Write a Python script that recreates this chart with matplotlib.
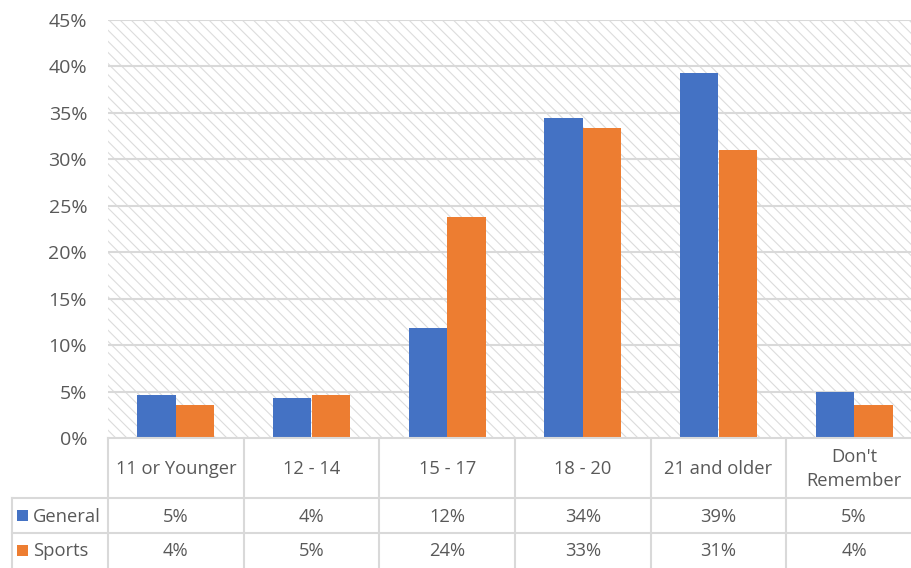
import numpy as np
import matplotlib.pyplot as plt
from matplotlib.patches import Rectangle

plt.rcParams['font.family'] = ['Open Sans', 'DejaVu Sans']
plt.rcParams['hatch.linewidth'] = 0.8
plt.rcParams['hatch.color'] = '#dcdcdc'

# data
categories = ["11 or Younger", "12 - 14", "15 - 17", "18 - 20", "21 and older", "Don't\nRemember"]
general = [4.6, 4.3, 11.8, 34.5, 39.3, 4.9]
sports = [3.5, 4.6, 23.8, 33.4, 31.0, 3.5]
general_lbl = ["5%", "4%", "12%", "34%", "39%", "5%"]
sports_lbl = ["4%", "5%", "24%", "33%", "31%", "4%"]
series = ["General", "Sports"]
colors = ["#4472C4", "#ED7D31"]
yticks = [0, 5, 10, 15, 20, 25, 30, 35, 40, 45]

W, H = 912, 568
fig = plt.figure(figsize=(W/100, H/100), dpi=100)

# plot area in pixels (right edge runs past the image, as in the original crop)
L, R, T, B = 108, 922, 20, 438
ax = fig.add_axes([L/W, 1-B/H, (R-L)/W, (B-T)/H])
x = np.arange(len(categories))
bw = 0.284
ax.add_patch(Rectangle((0, 0), 1, 1, transform=ax.transAxes, facecolor='white',
                       edgecolor='#dcdcdc', hatch='\\\\\\', lw=0, zorder=0))
ax.bar(x - bw/2, general, bw, color=colors[0], zorder=3)
ax.bar(x + bw/2, sports, bw, color=colors[1], zorder=3)
ax.set_xlim(-0.5, len(categories) - 0.5)
ax.set_ylim(0, 45)
ax.set_yticks(yticks)
ax.set_yticklabels([f"{v}%" for v in yticks], fontsize=14, color='#595959')
ax.set_xticks([])
ax.tick_params(axis='y', length=0, pad=15)
for v in yticks[1:]:
    ax.axhline(v, color='#d9d9d9', lw=1.5, zorder=1)
for s in ax.spines.values():
    s.set_visible(False)

# table drawn on a pixel-coordinate overlay
tx = fig.add_axes([0, 0, 1, 1], zorder=5)
tx.set_xlim(0, W)
tx.set_ylim(H, 0)
tx.axis('off')
tx.patch.set_alpha(0)

lc = '#d9d9d9'
colw = (R - L) / len(categories)
r1, r2 = 498, 533
tx.plot([L, W], [B, B], color=lc, lw=1.5)
tx.plot([12, W], [r1, r1], color=lc, lw=1.5)
tx.plot([12, W], [r2, r2], color=lc, lw=1.5)
tx.plot([12, 12], [r1, H], color=lc, lw=1.5)
for i in range(len(categories)):
    xx = L + i * colw
    tx.plot([xx, xx], [B, H], color=lc, lw=1.5)

tc = '#595959'
fs = 13.2
for i, c in enumerate(categories):
    cx = L + (i + 0.5) * colw
    tx.text(cx, (B + r1) / 2 + 1, c, ha='center', va='center', fontsize=fs, color=tc,
            linespacing=1.45)
    tx.text(cx, (r1 + r2) / 2 + 1, general_lbl[i], ha='center', va='center', fontsize=fs, color=tc)
    tx.text(cx, (r2 + H) / 2 + 1, sports_lbl[i], ha='center', va='center', fontsize=fs, color=tc)

for j, (name, col) in enumerate(zip(series, colors)):
    cy = (r1 + r2) / 2 if j == 0 else (r2 + H) / 2
    tx.add_patch(Rectangle((17, cy - 6), 11, 11, facecolor=col, lw=0))
    tx.text(33, cy + 1, name, ha='left', va='center', fontsize=fs, color=tc)

fig.savefig("out.png", dpi=100)
